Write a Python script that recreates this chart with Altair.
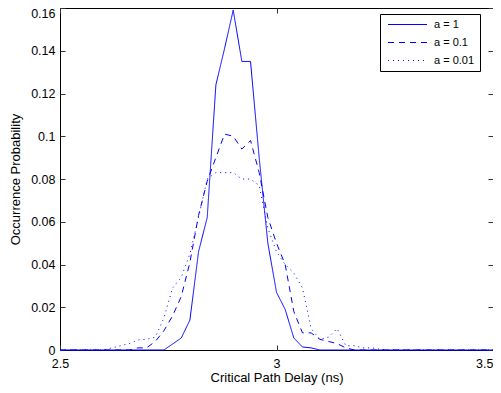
import altair as alt
import pandas as pd

# a = 1
x1 = [2.50, 2.74, 2.76, 2.78, 2.80, 2.82, 2.84, 2.86, 2.88, 2.90, 2.92, 2.94, 2.96, 2.98,
      3.00, 3.02, 3.04, 3.06, 3.08, 3.10, 3.50]
y1 = [0, 0, 0.0028, 0.0056, 0.014, 0.046, 0.062, 0.124, 0.141, 0.159, 0.135, 0.135, 0.09, 0.05,
      0.027, 0.019, 0.0056, 0.0014, 0.001, 0, 0]

# a = 0.1
x2 = [2.50, 2.66, 2.68, 2.70, 2.72, 2.74, 2.76, 2.78, 2.80, 2.82, 2.84, 2.86, 2.88, 2.90, 2.92,
      2.94, 2.96, 2.98, 3.00, 3.02, 3.04, 3.06, 3.08, 3.10, 3.12, 3.14, 3.16, 3.18, 3.50]
y2 = [0, 0, 0.001, 0.001, 0.004, 0.009, 0.016, 0.025, 0.041, 0.063, 0.079, 0.09, 0.101, 0.1, 0.094,
      0.098, 0.083, 0.062, 0.05, 0.04, 0.018, 0.008, 0.008, 0.005, 0.004, 0.003, 0.001, 0, 0]

# a = 0.01
x3 = [2.50, 2.60, 2.62, 2.64, 2.66, 2.68, 2.70, 2.72, 2.74, 2.76, 2.78, 2.80, 2.82, 2.84, 2.86,
      2.88, 2.90, 2.92, 2.94, 2.96, 2.98, 3.00, 3.02, 3.04, 3.06, 3.08, 3.10, 3.12, 3.14, 3.16,
      3.18, 3.20, 3.22, 3.24, 3.26, 3.50]
y3 = [0, 0, 0.001, 0.002, 0.003, 0.0047, 0.005, 0.006, 0.015, 0.029, 0.034, 0.045, 0.062, 0.08, 0.083,
      0.083, 0.083, 0.08, 0.08, 0.077, 0.057, 0.046, 0.04, 0.036, 0.029, 0.01, 0.005, 0.006, 0.01, 0.002,
      0.002, 0.001, 0.001, 0.0003, 0, 0]

series = ["a = 1", "a = 0.1", "a = 0.01"]
dashes = [[1, 0], [6, 5], [1, 4]]

x_ticks = [2.5, 3.0, 3.5]
y_ticks = [0, 0.02, 0.04, 0.06, 0.08, 0.1, 0.12, 0.14, 0.16]

rows = []
for name, xs, ys in zip(series, [x1, x2, x3], [y1, y2, y3]):
    for i, (a, b) in enumerate(zip(xs, ys)):
        rows.append({"series": name, "x": a, "y": b, "order": i})
df = pd.DataFrame(rows)

FONT = "Liberation Sans"

xscale = alt.Scale(domain=[2.5, 3.5], nice=False, zero=False)
yscale = alt.Scale(domain=[0, 0.16], nice=False)

common = dict(labelFont=FONT, titleFont=FONT, labelFontSize=12.5, titleFontSize=13,
              titleFontWeight="normal", labelColor="black", titleColor="black",
              tickColor="#333333", tickWidth=1, labelFlush=False)

lines = alt.Chart(df).mark_line(color="#0000ff", strokeWidth=1).encode(
    x=alt.X("x:Q", scale=xscale,
            axis=alt.Axis(orient="bottom", values=x_ticks, format=".1~f", title="Critical Path Delay (ns)",
                          offset=-5, tickSize=5, domain=False, grid=False, labelPadding=7,
                          titlePadding=2,
                          labelAlign={"condition": {"test": "datum.value >= 3.49", "value": "right"}, "value": "center"},
                          **common)),
    y=alt.Y("y:Q", scale=yscale,
            axis=alt.Axis(orient="left", values=y_ticks, format=".2~f", title="Occurrence Probability",
                          offset=-5, tickSize=5, domain=False, grid=False, labelPadding=5,
                          titlePadding=8,
                          labelOffset={"condition": {"test": "datum.value >= 0.159", "value": 5}, "value": 0},
                          **common)),
    strokeDash=alt.StrokeDash("series:N", sort=series,
                              scale=alt.Scale(domain=series, range=dashes),
                              legend=alt.Legend(title=None, orient="none", legendX=320, legendY=6,
                                                symbolType="M-4,0H4", symbolSize=95,
                                                symbolStrokeColor="#0000ff", symbolStrokeWidth=1,
                                                symbolOffset=17,
                                                labelFontSize=11, labelFont=FONT, labelColor="black",
                                                labelOffset=21,
                                                strokeColor="black", fillColor="white",
                                                padding=5, rowPadding=6)),
    order="order:Q",
)

frame = alt.Chart(df).mark_line(opacity=0).encode(
    x=alt.X("x:Q", scale=xscale,
            axis=alt.Axis(orient="top", values=x_ticks, labels=False, title=None,
                          offset=-5, tickSize=5, domain=False, grid=False, tickColor="#333333")),
    y=alt.Y("y:Q", scale=yscale,
            axis=alt.Axis(orient="right", values=y_ticks, labels=False, title=None,
                          offset=-5, tickSize=5, domain=False, grid=False, tickColor="#333333")),
    detail="series:N",
)

chart = alt.layer(lines, frame).resolve_axis(x="independent", y="independent").properties(
    width=433, height=342,
    autosize=alt.AutoSizeParams(type="none"),
    padding={"left": 52, "top": 0, "right": 0, "bottom": 35},
    background="white",
).configure_view(stroke="black", strokeWidth=1)

chart.save("out.html", embed_options={"renderer": "svg", "actions": False})
